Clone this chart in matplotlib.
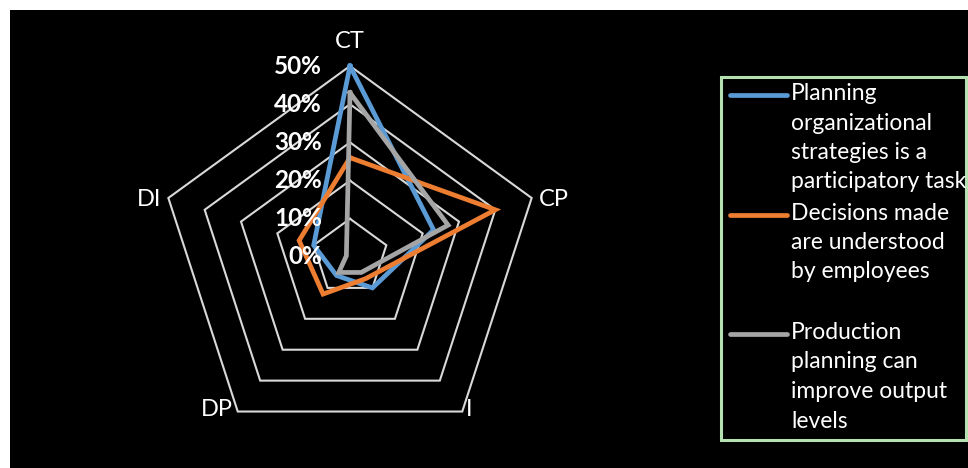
import numpy as np
import matplotlib
matplotlib.use("Agg")
import matplotlib.pyplot as plt
from matplotlib.patches import Rectangle

plt.rcParams['font.family'] = ['Lato', 'DejaVu Sans']

categories = ["CT", "CP", "I", "DP", "DI"]
series_names = [
    "Planning\norganizational\nstrategies is a\nparticipatory task",
    "Decisions made\nare understood\nby employees",
    "Production\nplanning can\nimprove output\nlevels",
]
blue_vals = [0.50, 0.23, 0.10, 0.06, 0.10]
orange_vals = [0.26, 0.40, 0.07, 0.12, 0.14]
gray_vals = [0.43, 0.27, 0.05, 0.05, 0.01]
tick_values = [0.0, 0.1, 0.2, 0.3, 0.4, 0.5]
tick_labels = ["0%", "10%", "20%", "30%", "40%", "50%"]
colors = ["#5B9BD5", "#ED7D31", "#A5A5A5"]

W, H = 968, 468
fig = plt.figure(figsize=(W / 100, H / 100), dpi=100, facecolor="white")
fig.add_artist(Rectangle((10 / W, 0), (W - 10) / W, (H - 10) / H,
                         transform=fig.transFigure, facecolor="black",
                         edgecolor="none", zorder=0))

ax = fig.add_axes([0, 0, 1, 1])
ax.set_facecolor("none")
ax.axis("off")
CX, CY, S = 350, 257, 382.0  # center px, px per unit (1.0 = 100%)
ax.set_xlim(-CX / S, (W - CX) / S)
ax.set_ylim((CY - H) / S, CY / S)


def px2d(px, py):
    return (px - CX) / S, (CY - py) / S


n = len(categories)
angles = np.pi / 2 - 2 * np.pi * np.arange(n) / n


def xy(vals):
    v = np.asarray(vals + vals[:1])
    a = np.concatenate([angles, angles[:1]])
    return v * np.cos(a), v * np.sin(a)


# grid pentagons
for t in tick_values[1:]:
    gx, gy = xy([t] * n)
    ax.plot(gx, gy, color="#D9D9D9", lw=1.5, zorder=1, solid_joinstyle="miter")

# series
for vals, c in zip([blue_vals, orange_vals, gray_vals], colors):
    sx, sy = xy(vals)
    ax.plot(sx, sy, color=c, lw=3.4, zorder=3, solid_joinstyle="miter")

# tick labels
for t, lab in zip(tick_values, tick_labels):
    ax.text(-0.073, t, lab, color="white", fontsize=17.5, fontweight="bold",
            ha="right", va="center", zorder=4)

# category labels
r0 = 0.5
offsets = [((0, 25), "center", "center"), ((7, -2), "left", "center"),
           ((4, 2), "left", "center"), ((-5, 2), "right", "center"),
           ((-7, -2), "right", "center")]
for i, lab in enumerate(categories):
    (ox, oy), ha, va = offsets[i]
    ax.annotate(lab, (r0 * np.cos(angles[i]), r0 * np.sin(angles[i])),
                xytext=(ox, oy), textcoords="offset pixels", color="white",
                fontsize=17, ha=ha, va=va, zorder=4)

# legend (manual)
lx0, ly0 = px2d(721, 77)
lx1, ly1 = px2d(966, 440)
ax.add_patch(Rectangle((lx0, ly1), lx1 - lx0, ly0 - ly1, facecolor="none",
                       edgecolor="#B5E1B0", lw=2.2, zorder=5, clip_on=False))
entry_top = [95, 214.5, 334]
for name, c, ty in zip(series_names, colors, entry_top):
    a0 = px2d(730, ty)
    a1 = px2d(787, ty)
    ax.plot([a0[0], a1[0]], [a0[1], a1[1]], color=c, lw=3.4, zorder=5,
            solid_capstyle="round")
    tx, tyd = px2d(791, ty - 12)
    ax.text(tx, tyd, name, color="white", fontsize=16.5, ha="left", va="top",
            linespacing=1.5, zorder=5)

fig.savefig("out.png", dpi=100, facecolor="white")
